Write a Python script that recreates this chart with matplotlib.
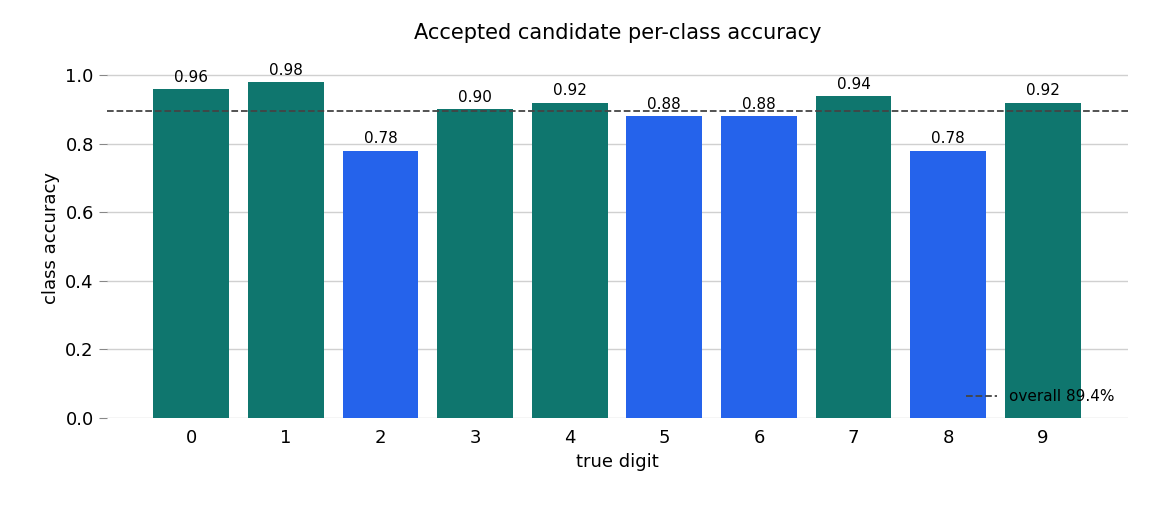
import matplotlib
matplotlib.use("Agg")
import matplotlib.pyplot as plt

digits = list(range(10))
acc = [0.96, 0.98, 0.78, 0.90, 0.92, 0.88, 0.88, 0.94, 0.78, 0.92]
overall = 0.894

fig = plt.figure(figsize=(11.52, 5.12), dpi=100)
ax = fig.add_axes([107/1152, 1-418/512, (1128-107)/1152, (418-58)/512])
colors = ["#0f766e" if a >= overall else "#2563eb" for a in acc]
ax.bar(digits, acc, width=0.8, color=colors, zorder=2)
for d, a in zip(digits, acc):
    ax.text(d, a + 0.012, f"{a:.2f}", ha="center", va="bottom", fontsize=11)
ax.axhline(overall, color="#444444", linestyle="--", linewidth=1.3, label=f"overall {overall*100:.1f}%", zorder=3)
ax.set_ylim(0, 1.05)
ax.set_xlim(-0.89, 9.9)
ax.set_xticks(digits)
ax.set_yticks([0, 0.2, 0.4, 0.6, 0.8, 1.0])
ax.grid(axis="y", color="#d0d0d0", linewidth=1, zorder=0)
for s in ax.spines.values():
    s.set_visible(False)
ax.tick_params(axis="x", length=0, labelsize=13, pad=8)
ax.tick_params(axis="y", length=6, color="#888888", labelsize=13)
ax.set_xlabel("true digit", fontsize=13)
ax.set_ylabel("class accuracy", fontsize=13)
ax.set_title("Accepted candidate per-class accuracy", fontsize=15, pad=14)
ax.legend(loc="lower right", frameon=False, fontsize=11)
fig.savefig("out.png", dpi=100)
